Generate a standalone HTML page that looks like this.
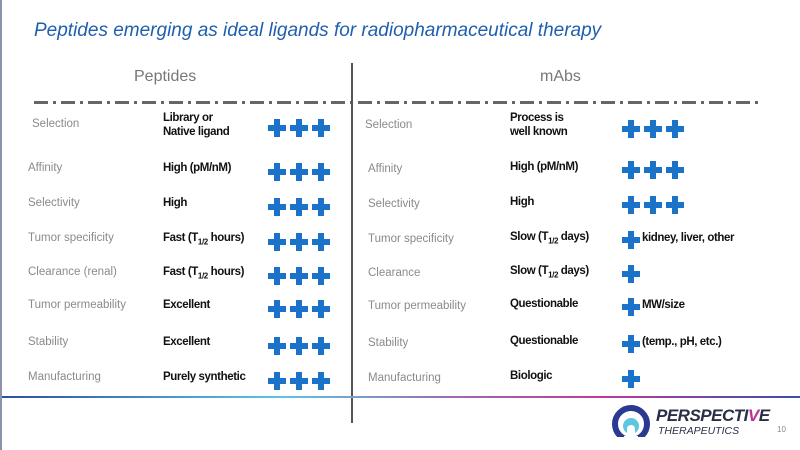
<!DOCTYPE html>
<html><head><meta charset="utf-8"><style>
body{margin:0;width:800px;height:450px;overflow:hidden;background:#fff;position:relative;font-family:"Liberation Sans",sans-serif}
.a{position:absolute;white-space:nowrap}
.lab{font-size:11.5px;color:#8a8a8a}
.val{font-size:11.5px;color:#111;font-weight:bold;letter-spacing:-0.4px}
.p{position:absolute;width:18px;height:18px}
.p:before{content:"";position:absolute;left:6px;top:0;width:6px;height:18px;background:#1a73c8}
.p:after{content:"";position:absolute;left:0;top:6px;width:18px;height:6px;background:#1a73c8}
sub{font-size:8px}
</style></head><body>
<div class="a" style="left:0;top:0;width:2px;height:450px;background:#8a93a8"></div>
<div class="a" style="left:34px;top:20px;font-size:19px;font-style:italic;color:#1f5fae">Peptides emerging as ideal ligands for radiopharmaceutical therapy</div>
<div class="a" style="left:134px;top:68px;font-size:16px;color:#777">Peptides</div>
<div class="a" style="left:540px;top:68px;font-size:16px;color:#777">mAbs</div>
<div class="a" style="left:34px;top:101px;width:726px;height:3px;background:repeating-linear-gradient(90deg,#666 0 14px,transparent 14px 19px,#666 19px 22px,transparent 22px 27px)"></div>
<div class="a" style="left:351px;top:63px;width:2px;height:360px;background:#555"></div>
<div class="a" style="left:2px;top:396px;width:798px;height:2px;background:linear-gradient(90deg,#2c4fa0,#5ec6e0 35%,#9a6fb5 55%,#c03a9a 75%,#3a4ea8)"></div>
<div id="rows"></div>
<div class="a" style="left:612px;top:405px;width:38px;height:32px;overflow:hidden">
<div style="position:absolute;left:0;top:0;width:26px;height:26px;border:6px solid #2b3a91;border-radius:50%"></div>
<div style="position:absolute;left:12px;top:31px;width:14px;height:6px;background:#fff"></div>
<div style="position:absolute;left:11px;top:13px;width:16px;height:16px;border-radius:50%;background:#5ec6e0"></div>
<div style="position:absolute;left:15px;top:20px;width:8px;height:12px;border-radius:4px 4px 0 0;background:#fff"></div>
</div>
<div class="a" style="left:656px;top:406px;font-size:17px;font-weight:bold;font-style:italic;color:#2a2f45;letter-spacing:-0.5px">PERSPECTI<span style="color:#c0309a">V</span>E</div>
<div class="a" style="left:658px;top:425px;font-size:10.5px;font-style:italic;color:#2a2f45">THERAPEUTICS</div>
<div class="a" style="left:777px;top:425px;font-size:8px;color:#888">10</div>
<script>
const labels=["Selection","Affinity","Selectivity","Tumor specificity","Clearance (renal)","Tumor permeability","Stability","Manufacturing"];
const rlabels=["Selection","Affinity","Selectivity","Tumor specificity","Clearance","Tumor permeability","Stability","Manufacturing"];
const lvals=["Library or<br>Native ligand","High (pM/nM)","High","Fast (T<sub>1/2</sub> hours)","Fast (T<sub>1/2</sub> hours)","Excellent","Excellent","Purely synthetic"];
const rvals=["Process is<br>well known","High (pM/nM)","High","Slow (T<sub>1/2</sub> days)","Slow (T<sub>1/2</sub> days)","Questionable","Questionable","Biologic"];
const lplus=[3,3,3,3,3,3,3,3];
const rplus=[3,3,3,1,1,1,1,1];
const rnotes=["","","","kidney, liver, other","","MW/size","(temp., pH, etc.)",""];
const ys=[125,169,204,239,273,306,343,378];
const c=document.getElementById('rows');
function add(html,l,t,cls,name){const d=document.createElement('div');d.className='a '+cls;d.innerHTML=html;d.style.left=l+'px';d.style.top=t+'px';


c.appendChild(d);return d;}
labels.forEach((s,i)=>{const y=ys[i];
add(s,i==0?32:28,y-7,'lab','left-row-label');
add(rlabels[i],i==0?365:368,y-6,'lab','right-row-label');
const two=lvals[i].includes('<br>');
add(lvals[i],163,two?y-14:y-8,'val','left-value').style.lineHeight='14px';
add(rvals[i],510,two?y-14:y-9,'val','right-value').style.lineHeight='14px';
for(let k=0;k<lplus[i];k++){add('',268+k*22,y-6,'p','left-plus');}
for(let k=0;k<rplus[i];k++){add('',622+k*22,(i==0?y+3:y)-8,'p','right-plus');}
if(rnotes[i])add(rnotes[i],642,y-7,'val','right-note');
});
</script>
</body></html>
